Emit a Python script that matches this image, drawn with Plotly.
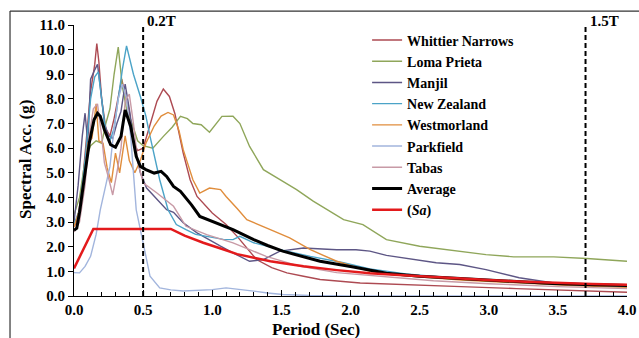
import plotly.graph_objects as go

# ---- data ----
whittier_T = [0, 0.03, 0.06, 0.09, 0.12, 0.15, 0.165, 0.18, 0.2, 0.23, 0.26, 0.29, 0.32, 0.345, 0.37, 0.4, 0.43, 0.46, 0.5, 0.55, 0.6, 0.646, 0.69, 0.73, 0.79, 0.84, 0.89, 1.0, 1.1, 1.18, 1.25, 1.32, 1.43, 1.54, 1.66, 1.78, 2.07, 2.4, 2.8, 3.2, 3.6, 4.0]
whittier_sa = [2.8, 3.2, 4.5, 6.5, 8.3, 9.4, 10.25, 9.5, 8.0, 6.8, 6.5, 7.2, 8.0, 8.8, 8.2, 7.5, 6.3, 5.9, 6.0, 6.9, 7.9, 8.4, 8.1, 7.4, 5.8, 4.72, 4.04, 3.37, 2.9, 2.42, 1.95, 1.48, 1.15, 0.94, 0.8, 0.67, 0.53, 0.45, 0.38, 0.3, 0.22, 0.15]

loma_T = [0, 0.04, 0.08, 0.12, 0.16, 0.2, 0.23, 0.26, 0.29, 0.32, 0.35, 0.38, 0.42, 0.46, 0.5, 0.57, 0.65, 0.71, 0.77, 0.82, 0.86, 0.92, 0.98, 1.07, 1.15, 1.2, 1.27, 1.37, 1.49, 1.61, 1.73, 1.85, 1.95, 2.09, 2.26, 2.5, 2.79, 2.98, 3.18, 3.47, 3.71, 4.0]
loma_sa = [3.3, 4.0, 5.5, 6.1, 6.3, 6.2, 7.0, 7.6, 9.0, 10.1, 8.5, 7.6, 7.0, 6.3, 6.1, 6.0, 6.5, 6.85, 7.29, 7.2, 7.0, 6.95, 6.65, 7.29, 7.3, 7.0, 6.07, 5.13, 4.72, 4.32, 3.85, 3.45, 3.1, 2.9, 2.29, 2.02, 1.82, 1.68, 1.59, 1.59, 1.52, 1.41]

manjil_T = [0, 0.03, 0.06, 0.08, 0.1, 0.12, 0.15, 0.17, 0.19, 0.22, 0.25, 0.28, 0.31, 0.34, 0.37, 0.4, 0.44, 0.48, 0.525, 0.6, 0.67, 0.72, 0.79, 0.89, 0.97, 1.06, 1.15, 1.27, 1.37, 1.49, 1.66, 1.9, 2.04, 2.14, 2.26, 2.62, 2.79, 2.98, 3.22, 3.47, 3.7, 4.0]
manjil_sa = [3.0, 4.5, 6.5, 7.42, 6.2, 8.8, 9.18, 9.4, 8.5, 7.0, 6.5, 6.4, 7.0, 7.5, 8.6, 7.6, 6.0, 5.0, 4.38, 3.91, 3.5, 3.4, 2.97, 2.56, 2.3, 2.02, 1.75, 1.41, 1.48, 1.82, 1.95, 1.88, 1.88, 1.82, 1.65, 1.35, 1.28, 1.07, 0.74, 0.53, 0.45, 0.4]

newzealand_T = [0, 0.04, 0.08, 0.12, 0.15, 0.176, 0.2, 0.23, 0.26, 0.29, 0.32, 0.35, 0.38, 0.43, 0.48, 0.52, 0.55, 0.62, 0.68, 0.74, 0.81, 0.88, 0.96, 1.08, 1.15, 1.2, 1.3, 1.49, 1.71, 1.95, 2.14, 2.4, 2.8, 3.2, 3.6, 4.0]
newzealand_sa = [2.9, 3.5, 5.5, 8.0, 8.9, 9.1, 8.0, 6.6, 6.3, 6.8, 8.0, 9.2, 10.15, 9.0, 8.1, 7.3, 6.48, 4.72, 3.5, 2.9, 2.69, 2.5, 2.42, 2.3, 2.29, 2.42, 2.16, 1.88, 1.61, 1.35, 1.1, 0.9, 0.7, 0.55, 0.45, 0.38]

westmorland_T = [0, 0.04, 0.08, 0.1, 0.13, 0.16, 0.18, 0.21, 0.24, 0.27, 0.3, 0.33, 0.37, 0.4, 0.44, 0.48, 0.52, 0.58, 0.63, 0.68, 0.72, 0.76, 0.79, 0.86, 0.91, 0.98, 1.06, 1.1, 1.18, 1.25, 1.42, 1.56, 1.71, 1.9, 2.14, 2.4, 2.8, 3.2, 3.6, 4.0]
westmorland_sa = [2.8, 3.5, 5.0, 6.2, 6.4, 7.8, 6.3, 6.2, 5.2, 4.6, 5.8, 5.0, 6.5, 5.5, 5.0, 5.5, 6.2, 6.9, 7.3, 7.45, 7.35, 6.7, 5.94, 4.72, 4.18, 4.38, 4.32, 4.04, 3.55, 3.1, 2.69, 2.36, 1.88, 1.41, 1.0, 0.82, 0.65, 0.52, 0.42, 0.35]

parkfield_T = [0, 0.04, 0.08, 0.12, 0.16, 0.19, 0.23, 0.26, 0.29, 0.32, 0.35, 0.38, 0.41, 0.45, 0.5, 0.55, 0.62, 0.7, 0.79, 0.9, 1.0, 1.1, 1.2, 1.3, 1.4, 1.51, 1.7, 2.0, 4.0]
parkfield_sa = [0.95, 0.94, 1.2, 1.61, 2.5, 3.5, 4.5, 5.26, 6.8, 8.0, 8.6, 8.0, 6.5, 3.5, 2.16, 0.8, 0.33, 0.25, 0.2, 0.22, 0.26, 0.33, 0.28, 0.2, 0.12, 0.06, 0.02, 0.0, 0.0]

tabas_T = [0, 0.04, 0.08, 0.11, 0.14, 0.17, 0.2, 0.22, 0.25, 0.28, 0.31, 0.34, 0.37, 0.4, 0.43, 0.46, 0.5, 0.6, 0.72, 0.81, 0.96, 1.15, 1.39, 1.63, 1.9, 2.2, 2.6, 3.0, 3.5, 4.0]
tabas_sa = [2.6, 3.0, 4.5, 6.5, 7.6, 7.8, 6.5, 5.4, 4.8, 4.1, 5.0, 6.0, 7.9, 8.2, 7.0, 5.5, 4.59, 4.18, 3.64, 2.83, 2.49, 2.16, 1.61, 1.21, 0.95, 0.8, 0.62, 0.5, 0.38, 0.3]

average_T = [0, 0.02, 0.04, 0.06, 0.085, 0.11, 0.145, 0.17, 0.19, 0.22, 0.265, 0.3, 0.34, 0.37, 0.41, 0.45, 0.48, 0.52, 0.58, 0.63, 0.67, 0.72, 0.77, 0.85, 0.91, 1.0, 1.07, 1.15, 1.3, 1.4, 1.51, 1.65, 1.78, 2.02, 2.26, 2.5, 2.75, 2.98, 3.25, 3.46, 3.75, 4.0]
average_sa = [2.67, 2.75, 3.4, 4.2, 5.26, 6.2, 7.15, 7.42, 7.3, 6.75, 6.14, 6.04, 6.48, 7.55, 6.88, 5.67, 5.26, 5.13, 4.99, 5.06, 4.85, 4.45, 4.25, 3.7, 3.23, 3.03, 2.9, 2.69, 2.29, 2.05, 1.82, 1.6, 1.41, 1.18, 0.92, 0.8, 0.72, 0.64, 0.57, 0.51, 0.46, 0.43]

design_T = [0, 0.14, 0.7, 0.8, 0.935, 1.0, 1.05, 1.18, 1.3, 1.42, 1.55, 1.66, 1.9, 2.14, 2.35, 2.55, 2.8, 3.03, 3.27, 3.51, 3.75, 4.0]
design_sa = [1.12, 2.72, 2.72, 2.45, 2.16, 2.05, 1.95, 1.70, 1.55, 1.41, 1.30, 1.21, 1.05, 0.92, 0.85, 0.78, 0.70, 0.64, 0.58, 0.53, 0.49, 0.46]

x_ticks = [0.0, 0.5, 1.0, 1.5, 2.0, 2.5, 3.0, 3.5, 4.0]
y_ticks = [0.0, 1.0, 2.0, 3.0, 4.0, 5.0, 6.0, 7.0, 8.0, 9.0, 10.0, 11.0]
marker_lines = [0.5, 3.7]
marker_labels = ["0.2T", "1.5T"]

series = [
    ("Whittier Narrows", whittier_T, whittier_sa, "#ad4a52", 1.4),
    ("Loma Prieta", loma_T, loma_sa, "#8fa65a", 1.4),
    ("Manjil", manjil_T, manjil_sa, "#5d5685", 1.4),
    ("New Zealand", newzealand_T, newzealand_sa, "#4ba3c7", 1.4),
    ("Westmorland", westmorland_T, westmorland_sa, "#e08d3c", 1.4),
    ("Parkfield", parkfield_T, parkfield_sa, "#a2b5dd", 1.4),
    ("Tabas", tabas_T, tabas_sa, "#c89aa6", 1.4),
    ("Average", average_T, average_sa, "#000000", 3),
    ("(<i>Sa</i>)", design_T, design_sa, "#e31a1c", 2.5),
]

FONT = "Liberation Serif"

fig = go.Figure()
for name, xs, ys, color, w in series:
    fig.add_trace(go.Scatter(x=xs, y=ys, mode="lines", name=name,
                             line=dict(color=color, width=w)))

for xv, lab in zip(marker_lines, marker_labels):
    fig.add_shape(type="line", xref="x", yref="y", x0=xv, x1=xv, y0=0, y1=11.1,
                  line=dict(color="black", width=2, dash="5px,3px"))
    fig.add_annotation(x=xv, xref="x", y=1.016, yref="paper", text=lab,
                       showarrow=False, xanchor="left", yanchor="middle", xshift=2,
                       font=dict(family=FONT, size=15, color="black", weight="bold"))

# outer frame lines of the original figure
fig.add_shape(type="line", xref="paper", yref="paper", x0=-0.1157, x1=1.03, y0=1.0515, y1=1.0515,
              line=dict(color="#333333", width=1.2))
fig.add_shape(type="line", xref="paper", yref="paper", x0=-0.1157, x1=-0.1157, y0=1.0515, y1=-0.17,
              line=dict(color="#333333", width=1.2))

# axis titles
fig.add_annotation(x=-0.088, xref="paper", y=0.503, yref="paper", text="Spectral Acc. (g)",
                   textangle=-90, showarrow=False, xanchor="center", yanchor="middle",
                   font=dict(family=FONT, size=17, color="black", weight="bold"))
fig.add_annotation(x=0.4376, xref="paper", y=-0.125, yref="paper", text="Period (Sec)",
                   showarrow=False, xanchor="center", yanchor="middle",
                   font=dict(family=FONT, size=17, color="black", weight="bold"))

fig.update_layout(
    width=639, height=338, autosize=False,
    margin=dict(l=74, r=12, t=25, b=42, autoexpand=False),
    paper_bgcolor="white", plot_bgcolor="white",
    showlegend=True,
    legend=dict(x=0.530, y=1.002, xanchor="left", yanchor="top",
                bgcolor="rgba(0,0,0,0)", borderwidth=0, tracegroupgap=0,
                itemwidth=30, maxheight=1.0,
                font=dict(family=FONT, size=14, color="black", weight="bold")),
    xaxis=dict(range=[0, 4], tickvals=x_ticks, ticktext=[f"{v:.1f}" for v in x_ticks],
               automargin=False,
               showgrid=False, zeroline=False, showline=True, linecolor="black", linewidth=1.2,
               ticks="inside", ticklen=6, tickcolor="black", tickwidth=1,
               minor=dict(dtick=0.1, ticks="inside", ticklen=4, tickcolor="black", tickwidth=1),
               tickfont=dict(family=FONT, size=15, color="black", weight="bold")),
    yaxis=dict(range=[0, 11], tickvals=y_ticks, ticktext=[f"{v:.1f}" for v in y_ticks],
               automargin=False,
               showgrid=False, zeroline=False, showline=True, linecolor="black", linewidth=1.2,
               ticks="outside", ticklen=5, tickcolor="black", tickwidth=1,
               tickfont=dict(family=FONT, size=15, color="black", weight="bold")),
)

fig.write_html("out.html", config={"displayModeBar": False, "responsive": False},
               post_script="document.body.style.margin='0px';document.body.style.overflow='hidden';")
